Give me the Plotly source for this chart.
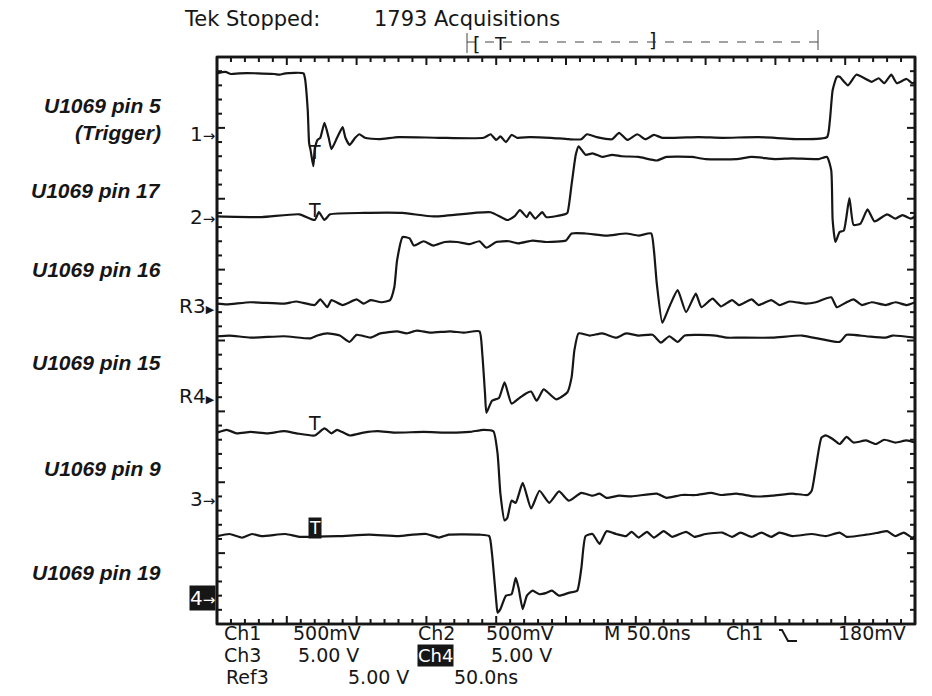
import plotly.graph_objects as go

# ---------------- data (time in ns, level in screen divisions from bottom) ----------------
CH1_T = [0, 6, 10, 16, 29, 41, 45, 49, 62, 63, 65, 66, 67, 69, 70, 72, 74, 77, 80, 82,
         86, 90, 92, 95, 99, 102, 106, 116, 130, 159, 191, 196, 200, 203, 207, 211, 215, 224, 239, 252,
         261, 265, 272, 283, 288, 294, 301, 307, 313, 319, 345, 362, 388, 419, 437, 439, 441, 444, 446, 452,
         458, 469, 474, 478, 483, 487, 494, 498, 500]
CH1_V = [7.77, 7.79, 7.76, 7.77, 7.77, 7.76, 7.75, 7.77, 7.77, 7.70, 7.25, 6.78, 6.69, 6.46, 6.69, 6.83, 6.86, 7.07, 6.86, 6.70,
         6.86, 7.01, 6.86, 6.76, 6.86, 6.91, 6.86, 6.84, 6.87, 6.86, 6.86, 6.91, 6.83, 6.88, 6.80, 6.90, 6.86, 6.87, 6.86, 6.84,
         6.84, 6.91, 6.87, 6.84, 6.93, 6.83, 6.91, 6.84, 6.90, 6.86, 6.87, 6.86, 6.87, 6.84, 6.87, 7.10, 7.53, 7.72, 7.72, 7.60,
         7.75, 7.65, 7.70, 7.63, 7.75, 7.63, 7.69, 7.63, 7.65]

CH2_T = [0, 32, 59, 70, 73, 77, 81, 105, 133, 155, 196, 208, 213, 217, 222, 224, 228, 233, 236, 249,
         251, 254, 257, 259, 264, 269, 276, 283, 290, 302, 315, 322, 340, 350, 372, 383, 400, 412, 431, 437,
         440, 441, 443, 446, 449, 453, 456, 461, 466, 471, 480, 486, 491, 497, 500]
CH2_V = [5.75, 5.74, 5.78, 5.70, 5.81, 5.70, 5.78, 5.80, 5.80, 5.75, 5.81, 5.70, 5.75, 5.84, 5.74, 5.81, 5.72, 5.81, 5.74, 5.78,
         5.80, 6.20, 6.62, 6.74, 6.62, 6.64, 6.59, 6.62, 6.60, 6.59, 6.54, 6.59, 6.59, 6.56, 6.56, 6.59, 6.56, 6.57, 6.56, 6.59,
         6.40, 5.70, 5.39, 5.53, 5.55, 6.01, 5.63, 5.65, 5.85, 5.68, 5.78, 5.72, 5.77, 5.72, 5.75]

REF3_T = [0, 7, 24, 48, 57, 70, 74, 79, 82, 90, 100, 105, 110, 118, 124, 127, 129, 133, 138, 141,
          148, 155, 163, 172, 181, 188, 193, 200, 209, 216, 226, 236, 250, 254, 264, 279, 293, 302, 311, 313,
          315, 319, 322, 325, 330, 336, 343, 347, 355, 361, 369, 374, 383, 388, 397, 403, 410, 422, 429, 440,
          444, 451, 456, 462, 469, 479, 486, 494, 500]
REF3_V = [4.52, 4.51, 4.54, 4.52, 4.55, 4.50, 4.58, 4.47, 4.57, 4.50, 4.58, 4.52, 4.57, 4.54, 4.57, 4.75, 5.13, 5.46, 5.44, 5.34,
          5.40, 5.34, 5.39, 5.39, 5.36, 5.40, 5.31, 5.39, 5.40, 5.37, 5.41, 5.39, 5.41, 5.51, 5.51, 5.48, 5.51, 5.48, 5.51, 5.27,
          4.81, 4.25, 4.38, 4.52, 4.71, 4.40, 4.66, 4.47, 4.59, 4.48, 4.57, 4.50, 4.58, 4.50, 4.57, 4.50, 4.55, 4.52, 4.54, 4.61,
          4.47, 4.54, 4.58, 4.50, 4.54, 4.50, 4.54, 4.50, 4.54]

REF4_T = [0, 9, 24, 48, 67, 72, 79, 88, 95, 100, 110, 117, 129, 136, 143, 153, 167, 177, 188, 190,
          192, 193, 197, 202, 206, 211, 216, 221, 225, 229, 234, 243, 251, 254, 256, 259, 267, 276, 286, 293,
          302, 312, 318, 324, 330, 335, 357, 365, 374, 398, 419, 446, 451, 465, 479, 484, 500]
REF4_V = [4.06, 4.07, 4.04, 4.06, 4.03, 4.07, 4.10, 4.07, 3.98, 4.08, 4.04, 4.10, 4.13, 4.10, 4.14, 4.11, 4.13, 4.11, 4.13, 3.82,
          3.25, 2.98, 3.15, 3.19, 3.41, 3.11, 3.18, 3.25, 3.28, 3.15, 3.31, 3.17, 3.27, 3.48, 3.86, 4.10, 4.07, 4.10, 4.04, 4.10,
          4.07, 4.08, 3.97, 4.06, 3.98, 4.07, 4.07, 4.04, 4.04, 4.04, 4.07, 3.98, 4.08, 4.06, 4.04, 4.07, 4.04]

CH3_T = [0, 7, 14, 24, 36, 48, 57, 70, 77, 82, 86, 95, 105, 115, 127, 148, 167, 181, 191, 198,
         201, 203, 206, 208, 211, 214, 219, 225, 231, 238, 245, 252, 261, 269, 274, 279, 288, 297, 315, 322,
         333, 343, 354, 361, 372, 385, 398, 412, 423, 426, 429, 433, 436, 441, 446, 451, 456, 465, 472, 478,
         486, 494, 500]
CH3_V = [2.70, 2.74, 2.69, 2.71, 2.69, 2.72, 2.69, 2.66, 2.76, 2.69, 2.74, 2.66, 2.70, 2.72, 2.70, 2.71, 2.70, 2.71, 2.74, 2.72,
         2.40, 1.84, 1.46, 1.50, 1.74, 1.71, 1.99, 1.63, 1.88, 1.71, 1.87, 1.74, 1.85, 1.81, 1.84, 1.78, 1.81, 1.80, 1.84, 1.78,
         1.82, 1.82, 1.85, 1.82, 1.84, 1.80, 1.81, 1.84, 1.82, 1.88, 2.21, 2.63, 2.66, 2.61, 2.54, 2.64, 2.56, 2.59, 2.54, 2.60,
         2.56, 2.59, 2.56]

CH4_T = [0, 9, 18, 25, 32, 49, 59, 87, 109, 130, 140, 150, 159, 166, 188, 195, 197, 200, 201, 203,
         207, 211, 214, 216, 219, 222, 226, 231, 236, 240, 245, 252, 258, 261, 264, 269, 274, 279, 286, 293,
         297, 302, 308, 313, 320, 326, 336, 342, 350, 362, 369, 375, 383, 390, 397, 403, 412, 426, 436, 446,
         451, 465, 474, 480, 486, 492, 498, 500]
CH4_V = [1.24, 1.27, 1.22, 1.27, 1.24, 1.27, 1.23, 1.24, 1.26, 1.24, 1.26, 1.27, 1.22, 1.26, 1.26, 1.24, 0.99, 0.33, 0.16, 0.21,
         0.40, 0.42, 0.65, 0.51, 0.21, 0.40, 0.47, 0.42, 0.44, 0.47, 0.40, 0.44, 0.47, 0.79, 1.24, 1.27, 1.13, 1.31, 1.27, 1.24,
         1.30, 1.22, 1.30, 1.22, 1.31, 1.23, 1.30, 1.23, 1.27, 1.29, 1.23, 1.29, 1.23, 1.29, 1.23, 1.29, 1.24, 1.27, 1.24, 1.29,
         1.23, 1.26, 1.29, 1.31, 1.24, 1.29, 1.22, 1.24]

PIN_LABELS = ["U1069 pin 5", "U1069 pin 17", "U1069 pin 16", "U1069 pin 15", "U1069 pin 9", "U1069 pin 19"]
PIN_LABEL_LEVEL = [7.31, 6.11, 5.00, 3.69, 2.20, 0.72]
TRIGGER_NOTE = "(Trigger)"
TRIGGER_NOTE_LEVEL = 6.93

MARKER_NAMES = ["1", "2", "R3", "R4", "3", "4"]
MARKER_LEVEL = [6.91, 5.74, 4.49, 3.21, 1.77, 0.37]

TRIGGER_NS = 70
T_MARK_LEVEL = [6.66, 5.84, 2.83]
T_MARK_LEVEL_CH4 = 1.36

HEADER_LEFT = "Tek Stopped:"
HEADER_RIGHT = "1793 Acquisitions"

X_FRAME = [0, 500]      # 10 divisions x 50 ns
Y_FRAME = [0, 8]        # 8 vertical divisions
X_MAJOR, X_MINOR = 50, 10
Y_MAJOR, Y_MINOR = 1.0, 0.2

# ---------------- layout geometry ----------------
W, H = 932, 696
FRAME_L, FRAME_T, FRAME_W, FRAME_H = 217, 57, 698, 567
PAD = 4
L, T = FRAME_L - PAD, FRAME_T - PAD
PW, PH = FRAME_W + 2 * PAD, FRAME_H + 2 * PAD
R = W - L - PW
B = H - T - PH
XS = (X_FRAME[1] - X_FRAME[0]) / FRAME_W     # ns per pixel
YS = (Y_FRAME[1] - Y_FRAME[0]) / FRAME_H     # div per pixel
X_RANGE = [X_FRAME[0] - PAD * XS, X_FRAME[1] + PAD * XS]
Y_RANGE = [Y_FRAME[0] - PAD * YS, Y_FRAME[1] + PAD * YS]


def px(xp):   # page pixel x -> paper
    return (xp - L) / PW


def py(yp):   # page pixel y -> paper
    return (H - B - yp) / PH


INK = "#161616"
fig = go.Figure()

# graticule frame: four separate edges
fx, fy = [], []
for (xa, ya, xb, yb) in [(X_FRAME[0], Y_FRAME[0], X_FRAME[1], Y_FRAME[0]),
                         (X_FRAME[1], Y_FRAME[0], X_FRAME[1], Y_FRAME[1]),
                         (X_FRAME[1], Y_FRAME[1], X_FRAME[0], Y_FRAME[1]),
                         (X_FRAME[0], Y_FRAME[1], X_FRAME[0], Y_FRAME[0])]:
    fx += [xa, xb, None]
    fy += [ya, yb, None]
fig.add_trace(go.Scatter(x=fx, y=fy, mode="lines", line=dict(color=INK, width=2.6, simplify=False),
                         hoverinfo="skip", showlegend=False))

# graticule edge ticks (1/5 division, longer at each division)
MAJ_LEN, MIN_LEN = 8, 5
gx, gy = [], []
nx = int(round((X_FRAME[1] - X_FRAME[0]) / X_MINOR))
per_x = int(round(X_MAJOR / X_MINOR))
for k in range(1, nx):
    xv = X_FRAME[0] + k * X_MINOR
    ln = MAJ_LEN if k % per_x == 0 else MIN_LEN
    gx += [xv, xv, None, xv, xv, None]
    gy += [Y_FRAME[0], Y_FRAME[0] + ln * YS, None, Y_FRAME[1], Y_FRAME[1] - ln * YS, None]
ny = int(round((Y_FRAME[1] - Y_FRAME[0]) / Y_MINOR))
per_y = int(round(Y_MAJOR / Y_MINOR))
for k in range(1, ny):
    yv = Y_FRAME[0] + k * Y_MINOR
    ln = MAJ_LEN if k % per_y == 0 else MIN_LEN
    gx += [X_FRAME[0], X_FRAME[0] + ln * XS, None, X_FRAME[1], X_FRAME[1] - ln * XS, None]
    gy += [yv, yv, None, yv, yv, None]
fig.add_trace(go.Scatter(x=gx, y=gy, mode="lines", line=dict(color=INK, width=2, simplify=False),
                         hoverinfo="skip", showlegend=False))

for tt, vv in [(CH1_T, CH1_V), (CH2_T, CH2_V), (REF3_T, REF3_V),
               (REF4_T, REF4_V), (CH3_T, CH3_V), (CH4_T, CH4_V)]:
    fig.add_trace(go.Scatter(x=tt, y=vv, mode="lines",
                             line=dict(color=INK, width=2.2, shape="spline", smoothing=0.5),
                             hoverinfo="skip", showlegend=False))

ann = []
SCOPE_FONT = "DejaVu Sans"

for lab, lev in zip(PIN_LABELS, PIN_LABEL_LEVEL):
    ann.append(dict(text=f"<b><i>{lab}</i></b>", x=px(163), y=lev, xref="paper", yref="y",
                    xanchor="right", yanchor="middle", showarrow=False,
                    font=dict(family="Liberation Sans", size=21, color=INK)))
ann.append(dict(text=f"<b><i>{TRIGGER_NOTE}</i></b>", x=px(163), y=TRIGGER_NOTE_LEVEL, xref="paper", yref="y",
                xanchor="right", yanchor="middle", showarrow=False,
                font=dict(family="Liberation Sans", size=21, color=INK)))

for name, lev in zip(MARKER_NAMES, MARKER_LEVEL):
    if name.startswith("R"):
        txt = f"{name}<span style='font-size:11px'>▶</span>"
    else:
        txt = f"{name}<span style='font-size:15px'>→</span>"
    boxed = name == "4"
    ann.append(dict(text=txt, x=px(216), y=lev, xref="paper", yref="y",
                    xanchor="right", yanchor="middle", showarrow=False,
                    font=dict(family=SCOPE_FONT, size=20, color="white" if boxed else INK),
                    bgcolor=INK if boxed else None, borderpad=0))

for lev in T_MARK_LEVEL:
    ann.append(dict(text="T", x=TRIGGER_NS, y=lev, xref="x", yref="y",
                    xanchor="center", yanchor="middle", showarrow=False,
                    font=dict(family=SCOPE_FONT, size=19, color=INK)))
ann.append(dict(text="T", x=TRIGGER_NS, y=T_MARK_LEVEL_CH4, xref="x", yref="y",
                xanchor="center", yanchor="middle", showarrow=False, bgcolor=INK, borderpad=0,
                font=dict(family=SCOPE_FONT, size=17, color="white")))

ann.append(dict(text=HEADER_LEFT, x=px(183), y=py(19), xref="paper", yref="paper",
                xanchor="left", yanchor="middle", showarrow=False, borderpad=0,
                font=dict(family=SCOPE_FONT, size=21, color=INK)))
ann.append(dict(text=HEADER_RIGHT, x=px(373), y=py(19), xref="paper", yref="paper",
                xanchor="left", yanchor="middle", showarrow=False, borderpad=0,
                font=dict(family=SCOPE_FONT, size=21, color=INK)))

for txt, xx, yy, sz in [("[", 476, 44, 19), ("T", 500, 43, 18), ("]", 652, 40, 19)]:
    ann.append(dict(text=txt, x=px(xx), y=py(yy), xref="paper", yref="paper",
                    xanchor="center", yanchor="middle", showarrow=False, borderpad=0,
                    font=dict(family=SCOPE_FONT, size=sz, color=INK)))

readout = [
    ("Ch1", 223, 633), ("500mV", 292, 633), ("Ch2", 417, 633), ("500mV", 485, 633),
    ("M 50.0ns", 603, 633), ("Ch1", 725, 633), ("180mV", 837, 633),
    ("Ch3", 223, 655), ("5.00 V", 297, 655), ("5.00 V", 490, 655),
    ("Ref3", 225, 677), ("5.00 V", 347, 677), ("50.0ns", 453, 677),
]
for txt, xx, yy in readout:
    ann.append(dict(text=txt, x=px(xx), y=py(yy), xref="paper", yref="paper",
                    xanchor="left", yanchor="middle", showarrow=False, borderpad=0,
                    font=dict(family=SCOPE_FONT, size=19, color=INK)))
ann.append(dict(text="Ch4", x=px(417), y=py(655), xref="paper", yref="paper",
                xanchor="left", yanchor="middle", showarrow=False, bgcolor=INK, borderpad=0,
                font=dict(family=SCOPE_FONT, size=18, color="white")))

shapes = [
    dict(type="line", xref="paper", yref="paper", x0=px(467), x1=px(818), y0=py(42), y1=py(42),
         line=dict(color="#444", width=1, dash="dash")),
    dict(type="line", xref="paper", yref="paper", x0=px(467), x1=px(467), y0=py(33), y1=py(53),
         line=dict(color="#444", width=1)),
    dict(type="line", xref="paper", yref="paper", x0=px(818), x1=px(818), y0=py(30), y1=py(50),
         line=dict(color="#444", width=1)),
    dict(type="path", xref="paper", yref="paper",
         path=f"M {px(779)},{py(630)} L {px(782)},{py(630)} L {px(788)},{py(641)} L {px(797)},{py(641)}",
         line=dict(color=INK, width=2)),
    dict(type="rect", xref="paper", yref="paper", layer="above",
         x0=px(FRAME_L), x1=px(FRAME_L + FRAME_W), y0=py(FRAME_T + FRAME_H), y1=py(FRAME_T),
         line=dict(color=INK, width=2.6)),
]

axis_common = dict(showgrid=False, zeroline=False, showticklabels=False, showline=False, ticks="")

fig.update_layout(
    width=W, height=H,
    margin=dict(l=L, r=R, t=T, b=B, autoexpand=False),
    paper_bgcolor="white", plot_bgcolor="white",
    xaxis=dict(range=X_RANGE, **axis_common),
    yaxis=dict(range=Y_RANGE, **axis_common),
    annotations=ann, shapes=shapes, showlegend=False,
)

fig.write_html("out.html", config={"displayModeBar": False},
               post_script="document.body.style.margin='0';document.body.style.padding='0';")
